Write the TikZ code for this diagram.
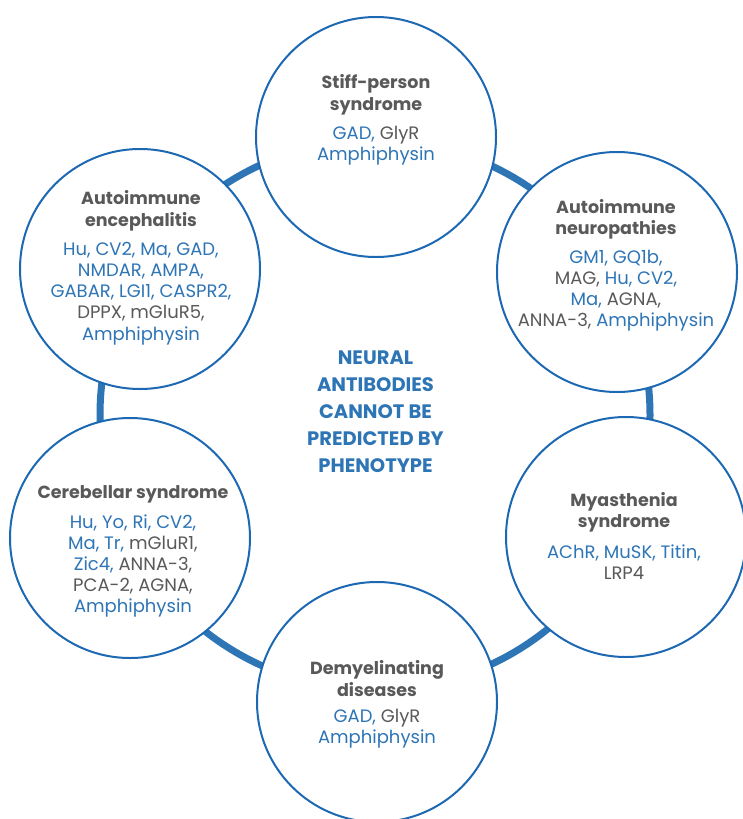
\documentclass[tikz,border=0pt]{standalone}
\usepackage{fontspec}
\setmainfont{Poppins}
\usepackage{xcolor}
\usepackage{tikz}
\usetikzlibrary{positioning}
\definecolor{nbblue}{RGB}{46,117,182}
\definecolor{nbgray}{RGB}{89,89,89}
\definecolor{nbedge}{RGB}{28,104,178}
\newcommand{\ab}[1]{\textcolor{nbblue}{#1}}

\begin{document}
\begin{tikzpicture}[x=1pt,y=-1pt,
  disc/.style={circle,draw=nbedge,line width=2pt,fill=white,minimum size=240pt,inner sep=0pt},
  head/.style={align=center,text=nbgray,font=\fontsize{17.5}{21.5}\selectfont\bfseries},
  body/.style={align=center,text=nbgray,font=\fontsize{18}{21.2}\selectfont},
  core/.style={align=center,text=nbblue,font=\fontsize{19.5}{27}\selectfont\bfseries}]
  \useasboundingbox (0,0) rectangle (743,819);
  \clip (0,0) rectangle (743,819);
  % ring behind the six discs
  \coordinate (hub) at (375,415);
  \draw[nbblue,line width=7pt] (hub) circle (275pt);
  \node[disc] (stiff) at (376,137) {};
  \node[disc] (enceph) at (140,269) {};
  \node[disc] (neuro) at (617,272) {};
  \node[disc] (cereb) at (130,538) {};
  \node[disc] (myast) at (626,537) {};
  \node[disc] (demye) at (377,702) {};
  % titles and antibodies
  \node[head] (stiffhead) at (376,95) {Stiff-person\\syndrome};
  \node[body] (stiffbody) at (376,145.5) {\ab{GAD,} GlyR\\\ab{Amphiphysin}};
  \node[head] (encephhead) at (141,211) {Autoimmune\\encephalitis};
  \node[body] (encephbody) at (141,293.5) {\ab{Hu, CV2, Ma, GAD,}\\\ab{NMDAR, AMPA,}\\
    \ab{GABAR, LGI1, CASPR2,}\\DPPX, mGluR5,\\\ab{Amphiphysin}};
  \node[head] (neurohead) at (616,219.5) {Autoimmune\\neuropathies};
  \node[body] (neurobody) at (616,290.5) {\ab{GM1, GQ1b,}\\MAG, \ab{Hu, CV2,}\\
    \ab{Ma,} AGNA,\\ANNA-3, \ab{Amphiphysin}};
  \node[head] (cerebhead) at (133,494) {Cerebellar syndrome};
  \node[body] (cerebbody) at (133,566) {\ab{Hu, Yo, Ri, CV2,}\\\ab{Ma, Tr,} mGluR1,\\
    \ab{Zic4,} ANNA-3,\\PCA-2, AGNA,\\\ab{Amphiphysin}};
  \node[head] (myasthead) at (624,512.5) {Myasthenia\\syndrome};
  \node[body] (myastbody) at (624,562.5) {\ab{AChR, MuSK, Titin,}\\LRP4};
  \node[head] (demyehead) at (377,678.5) {Demyelinating\\diseases};
  \node[body] (demyebody) at (377,728.5) {\ab{GAD,} GlyR\\\ab{Amphiphysin}};
  % message in the middle
  \node[core] (claim) at (375.5,411.5) {NEURAL\\ANTIBODIES\\CANNOT BE\\PREDICTED BY\\PHENOTYPE};
\end{tikzpicture}
\end{document}
